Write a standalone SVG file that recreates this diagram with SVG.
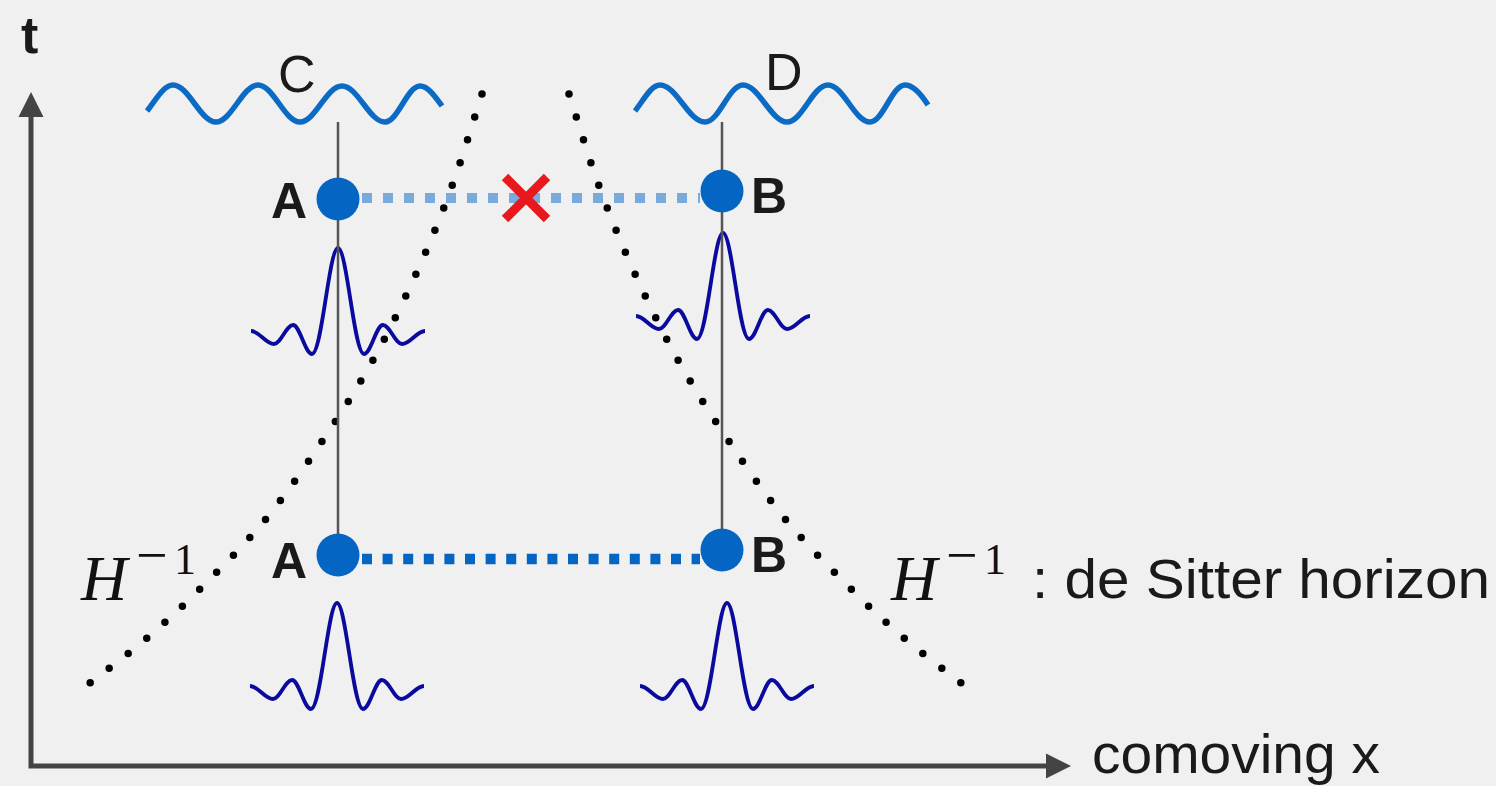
<svg xmlns="http://www.w3.org/2000/svg" width="1496" height="786" viewBox="0 0 1496 786">
<style>
.axis{stroke:#444;stroke-width:5;fill:none}
.arrow{fill:#444}
.world{stroke:#555;stroke-width:2.5}
.wave{fill:none;stroke:#0B6BC4;stroke-width:5.5;stroke-linecap:butt}
.packet{fill:none;stroke:#0A0A9E;stroke-width:3.8}
.dots{fill:none;stroke:#000;stroke-width:7.5;stroke-linecap:round;stroke-dasharray:0 1}
.node{fill:#0565C2}
.sans{font-family:"Liberation Sans",Arial,sans-serif;fill:#1a1a1a}
.lbl{font-family:"Liberation Sans",Arial,sans-serif;font-weight:bold;font-size:50px;fill:#1a1a1a}
.math{font-family:"Liberation Serif","Times New Roman",serif;fill:#111}
</style>
<defs>
<path id="pk" d="M-87,83 C-78.6,83 -72.4,96 -64,96 C-57.1,96 -51.9,77 -45,77 C-38.1,77 -32.9,106 -26,106 C-16,106 -9,0 0,0 C9,0 16,106 26,106 C32.9,106 38.1,77 45,77 C51.9,77 57.1,96 64,96 C72.4,96 78.6,83 87,83"/>
</defs>
<rect width="1496" height="786" fill="#F0F0F0"/>

<g id="axes">
<path class="axis" d="M31,115 L31,766 L1048,766"/>
<polygon class="arrow" points="31,92 43.5,117 18.5,117"/>
<polygon class="arrow" points="1071,766 1046,753.5 1046,778.5"/>
<text class="sans" x="21" y="53" font-size="52" font-weight="bold">t</text>
<text class="sans" x="1092" y="773" font-size="56" textLength="288" lengthAdjust="spacingAndGlyphs">comoving x</text>
</g>

<g id="horizon-left">
<path class="dots" pathLength="30.01" d="M482,94 C472,124.7 463,156 452,186 C441,216 429.2,245 416,274 C402.8,303 388.5,332.3 373,360 C357.5,387.7 341,413.3 323,440 C305,466.7 285.5,495.2 265,520 C244.5,544.8 219.7,569.3 200,589 C180.3,608.7 165.3,622.3 147,638 C128.7,653.7 109,668 90,683"/>
<text class="math" x="81" y="600" font-size="64" font-style="italic">H</text>
<text class="math" y="574"><tspan x="136" font-size="56">−</tspan><tspan x="174" font-size="44">1</tspan></text>
</g>

<g id="horizon-right">
<path class="dots" pathLength="30.01" d="M569,94 C579,124.7 588,156 599,186 C610,216 621.8,245 635,274 C648.2,303 662.5,332.3 678,360 C693.5,387.7 710,413.3 728,440 C746,466.7 765.5,495.2 786,520 C806.5,544.8 831.3,569.3 851,589 C870.7,608.7 885.7,622.3 904,638 C922.3,653.7 942,668 961,683"/>
<text class="math" x="891" y="600" font-size="64" font-style="italic">H</text>
<text class="math" y="574"><tspan x="946" font-size="56">−</tspan><tspan x="984" font-size="44">1</tspan></text>
<text class="sans" x="1032" y="598" font-size="56" textLength="458" lengthAdjust="spacingAndGlyphs">: de Sitter horizon</text>
</g>

<g id="wave-C">
<path class="wave" d="M147,111 C155,101 163.5,85 173,85 C188.6,85 200.4,122 216,122 C231.3,122 242.7,85 258,85 C273.3,85 284.7,122 300,122 C315.3,122 326.3,86 342,86 C357.7,86 369.3,122 385,122 C397.7,122 407.3,86 420,86 C428,86 435,96.4 442,106"/>
<text class="sans" x="278" y="92" font-size="52">C</text>
</g>

<g id="wave-D">
<path class="wave" d="M635,111 C643,101 651,85 660,85 C676.4,85 688.6,122 705,122 C719.2,122 728.8,85 743,85 C758.7,85 771.3,122 787,122 C802.3,122 812.7,85 828,85 C843.3,85 854.7,122 870,122 C883,122 892,85 905,85 C913,85 921,94 928,105"/>
<text class="sans" x="765" y="90" font-size="52">D</text>
</g>

<g id="packets">
<use href="#pk" class="packet" transform="translate(338,248)"/>
<use href="#pk" class="packet" transform="translate(723,233)"/>
<use href="#pk" class="packet" transform="translate(337,603)"/>
<use href="#pk" class="packet" transform="translate(727,603)"/>
</g>

<g id="worldlines">
<line class="world" x1="338" y1="122" x2="338" y2="555"/>
<line class="world" x1="722" y1="122" x2="722" y2="550"/>
</g>

<g id="connectors">
<line x1="362" y1="198" x2="700" y2="198" stroke="#78AADC" stroke-width="10" stroke-dasharray="10 11"/>
<line x1="362" y1="559" x2="700" y2="559" stroke="#0565C2" stroke-width="10.5" stroke-dasharray="10 10.6"/>
</g>

<g id="node-A-upper">
<circle class="node" cx="338" cy="199" r="21.5"/>
<text class="lbl" x="271" y="218">A</text>
</g>
<g id="node-B-upper">
<circle class="node" cx="722" cy="191" r="21.5"/>
<text class="lbl" x="751" y="213">B</text>
</g>
<g id="node-A-lower">
<circle class="node" cx="338" cy="555" r="21.5"/>
<text class="lbl" x="271" y="578">A</text>
</g>
<g id="node-B-lower">
<circle class="node" cx="722" cy="550" r="21.5"/>
<text class="lbl" x="751" y="572">B</text>
</g>

<g id="cross" stroke="#E8191E" stroke-width="9">
<line x1="505" y1="177" x2="547" y2="219"/>
<line x1="547" y1="177" x2="505" y2="219"/>
</g>
</svg>
